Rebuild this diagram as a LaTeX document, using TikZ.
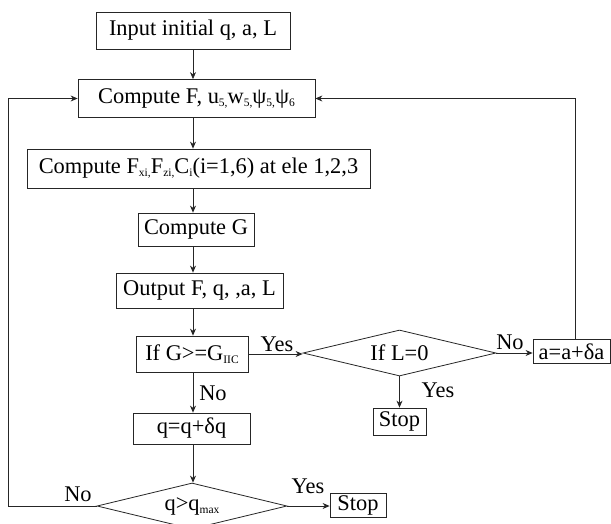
\documentclass[tikz,border=0pt]{standalone}
\usepackage{fontspec}
\setmainfont{Liberation Serif}
\usetikzlibrary{shapes.geometric,arrows.meta}
\newcommand{\lowsub}[1]{\raisebox{-3.2pt}{\fontsize{11.5}{12}\selectfont #1}}
\begin{document}
\begin{tikzpicture}[x=1pt,y=-1pt,
  every node/.style={font=\fontsize{22.4}{26}\selectfont},
  boxstyle/.style={draw=black!85,line width=0.8pt,rectangle,inner sep=0pt,align=center},
  decision/.style={draw=black!85,line width=0.8pt,diamond,inner sep=0pt,shape aspect=4.2},
  lbl/.style={inner sep=0pt},
  arr/.style={draw=black!85,line width=0.8pt,-{Stealth[length=7pt,width=6pt]}},
  ln/.style={draw=black!85,line width=0.8pt}]
\useasboundingbox (0,0) rectangle (611,523);
\clip (0,0) rectangle (611,523);
\fill[white] (0,0) rectangle (611,523);

\node[boxstyle,minimum width=194,minimum height=37] (in) at (193,30.5) {Input initial q, a, L};
\node[boxstyle,minimum width=237,minimum height=38] (cf) at (196.5,98.5) {Compute F, u\lowsub{5,}w\lowsub{5,}ψ\lowsub{5,}ψ\lowsub{6}};
\node[boxstyle,minimum width=343,minimum height=39] (cx) at (198.5,168.5) {Compute F\lowsub{xi,}F\lowsub{zi,}C\lowsub{i}(i=1,6) at ele 1,2,3};
\node[boxstyle,minimum width=116,minimum height=33] (cg) at (196,229.5) {Compute G};
\node[boxstyle,minimum width=167,minimum height=35] (out) at (199.5,290.5) {Output F, q, ,a, L};
\node[boxstyle,minimum width=112,minimum height=36] (ifg) at (192,354) {If G>=G\lowsub{IIC}};
\node[boxstyle,minimum width=117,minimum height=31] (qq) at (191.5,428.5) {q=q+δq};
\node[decision,minimum width=190,minimum height=46] (dq) at (192,506) {q>q\lowsub{max}};
\node[boxstyle,minimum width=56,minimum height=24] (stopa) at (358,505) {Stop};
\node[decision,minimum width=193,minimum height=46] (dl) at (399.5,353) {If L=0};
\node[boxstyle,minimum width=53,minimum height=27] (stopb) at (399.5,421.5) {Stop};
\node[boxstyle,minimum width=77,minimum height=24] (aa) at (571.5,351.5) {a=a+δa};

\coordinate (lx) at (8,506);

\draw[arr] (in.south) -- (in.south |- cf.north);
\draw[arr] (cf.south -| in.south) -- (cx.north -| in.south);
\draw[arr] (cx.south -| in.south) -- (cg.north -| in.south);
\draw[arr] (cg.south -| in.south) -- (out.north -| in.south);
\draw[arr] (out.south -| in.south) -- (ifg.north -| in.south);
\draw[arr] (ifg.south -| in.south) -- (qq.north -| in.south);
\draw[arr] (qq.south -| in.south) -- (dq.north -| in.south);
\draw[arr] (ifg.east) -- (ifg.east -| dl.west);
\draw[arr] (dl.east) -- (dl.east -| aa.west);
\draw[arr] (dl.south) -- (stopb.north);
\draw[arr] (dq.east) -- (dq.east -| stopa.west);
\draw[arr] ([xshift=3.5pt]aa.north) |- (cf.east);
\draw[arr] (dq.west) -- (lx) |- (cf.west);

\node[lbl] (lyes1) at (277,344) {Yes};
\node[lbl] (lno1) at (510,342) {No};
\node[lbl] (lyes2) at (438,390) {Yes};
\node[lbl] (lno2) at (213,393) {No};
\node[lbl] (lyes3) at (308,486) {Yes};
\node[lbl] (lno3) at (78,494) {No};
\end{tikzpicture}
\end{document}
